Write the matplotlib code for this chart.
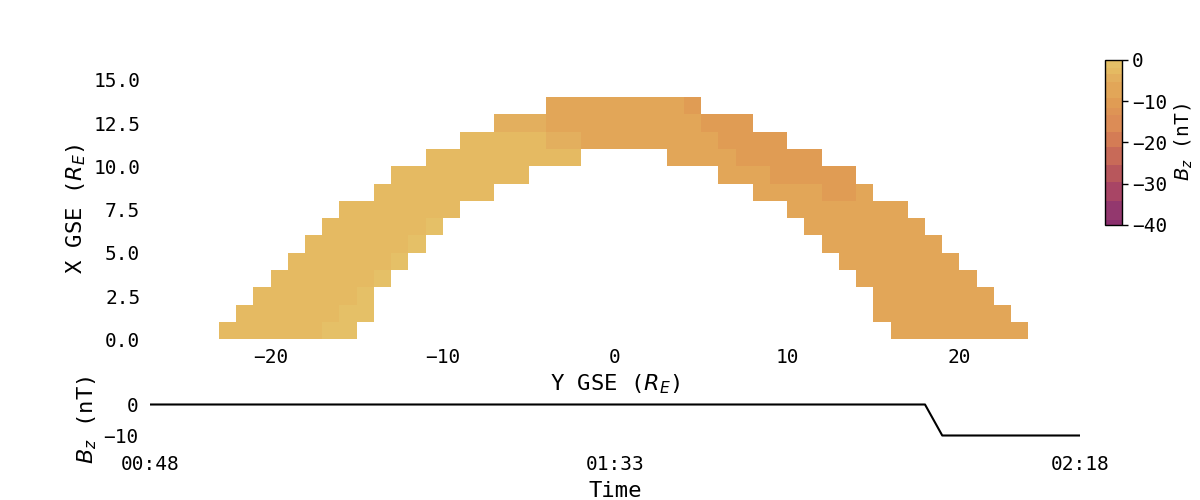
import numpy as np
import matplotlib
matplotlib.use("Agg")
import matplotlib.pyplot as plt
from matplotlib.colors import ListedColormap, BoundaryNorm
from matplotlib.cm import ScalarMappable

plt.rcParams['font.family'] = 'DejaVu Sans Mono'
plt.rcParams['mathtext.fontset'] = 'dejavusans'

# each row of the map: (Y start, Y stop, Bz in nT), row index is X GSE
row_runs = [
    [(-23, -17, -3), (-17, -15, -1), (16, 24, -7)],
    [(-22, -16, -3), (-16, -14, -1), (15, 23, -7)],
    [(-21, -15, -3), (-15, -14, -1), (15, 22, -7)],
    [(-20, -14, -3), (-14, -13, -1), (14, 21, -7)],
    [(-19, -13, -3), (-13, -12, -1), (13, 20, -7)],
    [(-18, -12, -3), (-12, -11, -1), (12, 19, -7)],
    [(-17, -11, -3), (-11, -10, -1), (11, 18, -7)],
    [(-16, -9, -3), (10, 17, -7)],
    [(-14, -7, -3), (8, 12, -7), (12, 14, -10.5), (14, 15, -7)],
    [(-13, -5, -3), (6, 9, -7), (9, 14, -10.5)],
    [(-11, -2, -3), (3, 7, -7), (7, 12, -10.5)],
    [(-9, -4, -3), (-4, -2, -4.5), (-2, 6, -7), (6, 10, -10.5)],
    [(-7, -4, -4.5), (-4, 5, -7), (5, 8, -10.5)],
    [(-4, 4, -7), (4, 5, -10.5)],
]

bz_levels = [-40, -38.8, -34.3, -29.5, -25.5, -21, -17.4, -13.3, -11.7, -9.3, -5.3, -3.5, -2, 0]
bz_colors = ['#8b2f6d', '#93386e', '#a84565', '#b8575c', '#c86a58', '#d47c55', '#dc8c56', '#de9455',
             '#e09c54', '#e2a658', '#e3af5e', '#e5ba62', '#e5c067']

time_min = [0, 75, 76.67, 90]
bz_series = [0, 0, -10, -10]
time_ticks = [0, 45, 90]
time_labels = ['00:48', '01:33', '02:18']

y_edges = np.arange(-27, 28)
x_edges = np.arange(0, 15)
grid = np.full((len(x_edges) - 1, len(y_edges) - 1), np.nan)
for i, runs in enumerate(row_runs):
    for start, stop, val in runs:
        grid[i, start + 27:stop + 27] = val

cmap = ListedColormap(bz_colors)
norm = BoundaryNorm(bz_levels, cmap.N)

fig = plt.figure(figsize=(12, 5), dpi=100)


def px_axes(left, top, right, bottom):
    return fig.add_axes([left / 1200, 1 - bottom / 500, (right - left) / 1200, (bottom - top) / 500])


ax = px_axes(150, 78, 1080, 339.3)
ax.pcolormesh(y_edges, x_edges, grid, cmap=cmap, norm=norm)
ax.set_xlim(-27, 27)
ax.set_ylim(0, 261.3 / 17.3)
ax.set_xticks([-20, -10, 0, 10, 20])
ax.set_yticks([0, 2.5, 5, 7.5, 10, 12.5, 15])
ax.set_yticklabels(['0.0', '2.5', '5.0', '7.5', '10.0', '12.5', '15.0'])
ax.tick_params(length=0, labelsize=14)
ax.tick_params(axis='x', pad=6)
ax.tick_params(axis='y', pad=7)
ax.set_xlabel('Y GSE ($R_E$)', fontsize=16, labelpad=4)
ax.set_ylabel('X GSE ($R_E$)', fontsize=16, labelpad=4)
for s in ax.spines.values():
    s.set_visible(False)

cax = px_axes(1105, 60, 1122, 225)
cb = fig.colorbar(ScalarMappable(norm=norm, cmap=cmap), cax=cax, spacing='proportional')
cb.set_ticks([0, -10, -20, -30, -40])
cb.ax.minorticks_off()
cb.ax.tick_params(labelsize=14, length=4, width=1, pad=3)
cb.set_label('$B_z$ (nT)', fontsize=14, labelpad=4)
cb.outline.set_linewidth(1)

ax2 = px_axes(150, 404.5, 1080, 435.5)
ax2.plot(time_min, bz_series, color='black', lw=1.5, clip_on=False, solid_capstyle='butt')
ax2.set_xlim(0, 90)
ax2.set_ylim(-10, 0)
ax2.set_xticks(time_ticks)
ax2.set_xticklabels(time_labels)
ax2.set_yticks([0, -10])
ax2.tick_params(length=0, labelsize=14)
ax2.tick_params(axis='x', pad=14)
ax2.tick_params(axis='y', pad=8)
ax2.set_xlabel('Time', fontsize=16, labelpad=5)
ax2.set_ylabel('$B_z$ (nT)', fontsize=16, labelpad=3)
for s in ax2.spines.values():
    s.set_visible(False)

fig.savefig('out.png', dpi=100)
